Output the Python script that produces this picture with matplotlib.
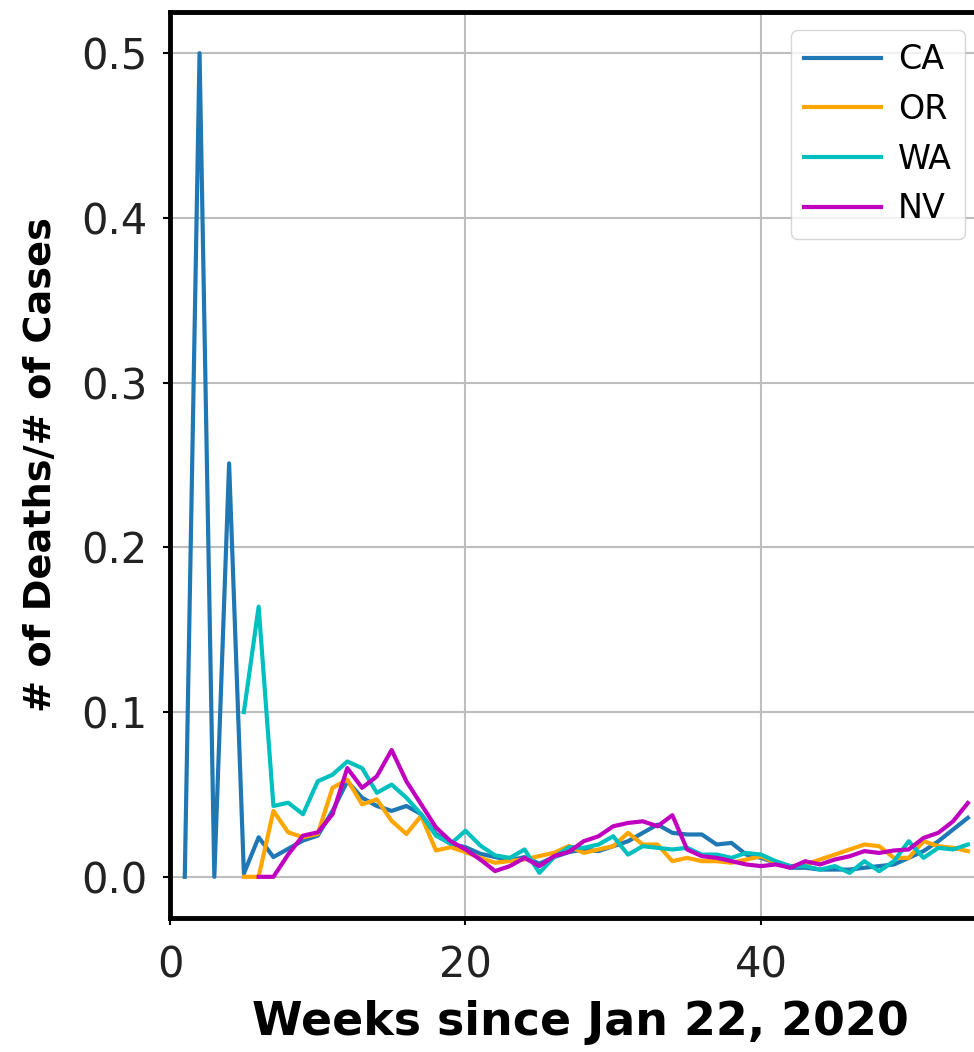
import numpy as np
import matplotlib
matplotlib.use("Agg")
import matplotlib.pyplot as plt

### weekly ratio of deaths to cases
nan = np.nan
weeks = np.arange(1, 55)

ca = [0.0, 0.50, 0.0, 0.251, 0.002, 0.024, 0.012, 0.017, 0.022, 0.025,
      0.040, 0.058, 0.048, 0.043, 0.040, 0.043, 0.038, 0.026, 0.020, 0.018,
      0.014, 0.012, 0.010, 0.012, 0.008, 0.012, 0.015, 0.0166, 0.0156, 0.0186,
      0.0216, 0.0267, 0.0317, 0.0267, 0.0257, 0.0257, 0.0196, 0.0206, 0.0135, 0.0115,
      0.0085, 0.0055, 0.0055, 0.0044, 0.0044, 0.0044, 0.0055, 0.0065, 0.0075, 0.0115,
      0.0156, 0.0216, 0.0287, 0.0358]

orr = [nan, nan, nan, nan, 0.0, 0.0, 0.040, 0.027, 0.024, 0.026,
       0.054, 0.059, 0.044, 0.047, 0.034, 0.026, 0.037, 0.016, 0.018, 0.015,
       0.0115, 0.0085, 0.0096, 0.0106, 0.0126, 0.0146, 0.0187, 0.0145, 0.0166, 0.0186,
       0.0267, 0.0196, 0.0196, 0.0095, 0.0115, 0.0095, 0.0095, 0.0085, 0.0105, 0.0125,
       0.0085, 0.0065, 0.0075, 0.0105, 0.0135, 0.0166, 0.0196, 0.0186, 0.0115, 0.0115,
       0.0216, 0.0186, 0.0176, 0.0156]

wa = [nan, nan, nan, nan, 0.100, 0.164, 0.043, 0.045, 0.038, 0.058,
      0.062, 0.070, 0.066, 0.051, 0.056, 0.048, 0.038, 0.025, 0.020, 0.028,
      0.019, 0.013, 0.0115, 0.0166, 0.0024, 0.012, 0.018, 0.0176, 0.0196, 0.0246,
      0.0135, 0.0186, 0.0176, 0.0166, 0.0176, 0.0135, 0.0135, 0.0115, 0.0145, 0.0135,
      0.0095, 0.0065, 0.0065, 0.0044, 0.0065, 0.0024, 0.0095, 0.0034, 0.0095, 0.0216,
      0.0115, 0.0176, 0.0166, 0.0196]

nv = [nan, nan, nan, nan, nan, 0.0, 0.0, 0.0136, 0.025, 0.027,
      0.038, 0.066, 0.054, 0.061, 0.077, 0.058, 0.044, 0.030, 0.0216, 0.0166,
      0.0105, 0.0035, 0.0065, 0.0115, 0.0065, 0.0126, 0.0152, 0.0216, 0.0246, 0.0307,
      0.0327, 0.0337, 0.0307, 0.0374, 0.0166, 0.0125, 0.0115, 0.0095, 0.0075, 0.0065,
      0.0075, 0.0055, 0.0095, 0.0075, 0.0105, 0.0125, 0.0156, 0.0145, 0.016, 0.0166,
      0.0236, 0.0267, 0.0337, 0.0448]

states = ["CA", "OR", "WA", "NV"]
series = [ca, orr, wa, nv]
colors = ["#1f77b4", "orange", "c", "m"]

fig = plt.figure(figsize=(9.74, 10.52), dpi=100)
# axes runs past the right edge, like the cropped original
ax = fig.add_axes([170/974, 1 - 918/1052, 820/974, 906/1052])

for name, vals, col in zip(states, series, colors):
    ax.plot(weeks, vals, color=col, lw=3, label=name)

ax.set_xlim(0, 55.5)
ax.set_ylim(-0.025, 0.525)
ax.set_xticks([0, 20, 40])
ax.set_yticks([0.0, 0.1, 0.2, 0.3, 0.4, 0.5])
ax.grid(True, color="#bdbdbd", lw=1.5)
ax.tick_params(labelsize=30, width=1.5, length=5, labelcolor="#222222")
ax.tick_params(axis="y", pad=11)
ax.tick_params(axis="x", pad=14)
for sp in ax.spines.values():
    sp.set_linewidth(3.5)

ax.set_xlabel("Weeks since Jan 22, 2020", fontsize=33, fontweight="bold", labelpad=10)
ax.set_ylabel("# of Deaths/# of Cases", fontsize=27.5, fontweight="bold", labelpad=16)

fig.legend(loc="upper right", bbox_to_anchor=(965/974, 1 - 30/1052),
           bbox_transform=fig.transFigure, fontsize=24, borderaxespad=0,
           handlelength=2.3, handletextpad=0.5, labelspacing=0.5)

fig.savefig("out.png", dpi=100)
